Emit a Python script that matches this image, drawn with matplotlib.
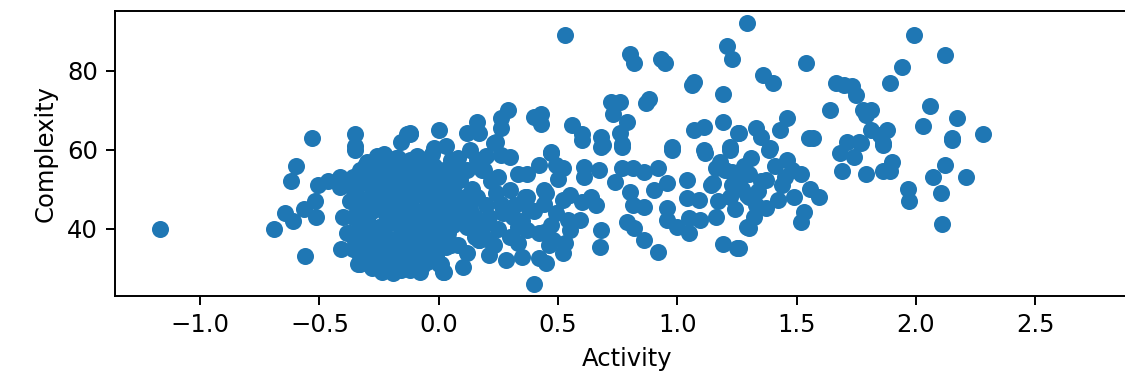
import matplotlib
matplotlib.use("Agg")
import matplotlib.pyplot as plt

# Werte (Activity, Complexity)
outliers_x = [-1.17, -0.69, -0.645, -0.61, -0.62, -0.60, -0.565, -0.56, -0.53, -0.52,
              -0.515, -0.505, -0.466, -0.414, -0.414, -0.40, -0.41, -0.386, -0.35, -0.35,
              -0.35, -0.33, -0.24, -0.19, -0.08, 0.02, -0.23, -0.03, -0.135, -0.16,
              0.0, -0.02, 0.03, -0.12]
outliers_y = [40, 40, 44, 42, 52, 56, 45, 33, 63, 47,
              43, 51, 52, 53, 50.5, 43, 35, 39, 60, 64,
              61, 31, 29, 28.7, 29, 29, 59, 59, 64, 62,
              65, 60.5, 61, 64]

cluster_x = [-0.30, -0.22, -0.15, -0.08, -0.02,
             -0.33, -0.27, -0.19, -0.11, -0.05, 0.02,
             -0.36, -0.29, -0.24, -0.16, -0.09, -0.03, 0.04,
             -0.38, -0.32, -0.25, -0.18, -0.13, -0.06, -0.01, 0.06,
             -0.35, -0.27, -0.21, -0.14, -0.09, -0.04, 0.03,
             -0.37, -0.31, -0.23, -0.18, -0.12, -0.05, 0.01, 0.07,
             -0.34, -0.28, -0.20, -0.15, -0.07, -0.02, 0.05,
             -0.36, -0.30, -0.22, -0.17, -0.10, -0.04, 0.03,
             -0.33, -0.25, -0.20, -0.13, -0.06, -0.01, 0.06,
             -0.37, -0.29, -0.24, -0.16, -0.11, -0.05, 0.02,
             -0.35, -0.27, -0.21, -0.14, -0.08, -0.02, 0.04,
             -0.36, -0.31, -0.23, -0.17, -0.12, -0.04, 0.03,
             -0.33, -0.26, -0.19, -0.13, -0.07, -0.01,
             -0.34, -0.28, -0.22, -0.15, -0.10, -0.05, 0.01,
             -0.26, -0.18, -0.09, -0.20, -0.12, -0.28, -0.16, -0.07]
cluster_y = [57, 57.5, 56.5, 57, 56,
             55, 54.5, 55.5, 55, 54, 55,
             53, 52.5, 53.5, 53, 52, 53, 52.5,
             51, 51.5, 50.5, 51, 51.5, 50.5, 51, 50,
             49, 48.5, 49.5, 49, 48.5, 49.5, 49,
             47, 46.5, 47.5, 47, 46.5, 47, 47.5, 46.5,
             45, 44.5, 45.5, 45, 44.5, 45, 45.5,
             43, 42.5, 43.5, 43, 42.5, 43, 43.5,
             41, 40.5, 41.5, 41, 41.5, 40.5, 41,
             39, 39.5, 38.5, 39, 39.5, 38.5, 39,
             37, 36.5, 37.5, 37, 36.5, 37, 37.5,
             35, 35.5, 34.5, 35, 34.5, 35, 35.5,
             33, 33.5, 32.5, 33, 32.5, 33,
             31, 31.5, 30.5, 31, 30.5, 31.5, 31,
             58.5, 58, 58.5, 30, 29.5, 30, 29.5, 30.5]

cluster_extra_x = [-0.31, -0.25, -0.17, -0.12, -0.04, 0.05, -0.28, -0.22, -0.15, -0.10,
                   -0.34, -0.26, -0.19, -0.12, -0.31, -0.24, -0.15, -0.08, 0.00, -0.32,
                   -0.19, -0.10, -0.02, 0.05, 0.07, 0.08, 0.06, -0.28, -0.14, 0.00,
                   -0.06, -0.21, 0.00]
cluster_extra_y = [56, 56.5, 58, 57.5, 58, 56, 50, 52, 50, 54,
                   48, 46, 44, 44, 42, 40, 40, 41, 42, 38,
                   36, 35, 33, 36, 42, 48, 52, 34, 32, 31,
                   49, 48, 46]

mid_x = [0.05, 0.13, 0.16, 0.19, 0.09, 0.02, 0.16, 0.075, 0.12, 0.17,
         0.12, 0.10, 0.016, 0.10, 0.21, 0.28, 0.21, 0.35, 0.30, 0.36,
         0.44, 0.44, 0.42, 0.06, 0.10, 0.14, 0.20, 0.22, 0.08, 0.04,
         0.15, 0.25, 0.18, 0.06, 0.11, 0.24, 0.20,
         0.40, 0.45, 0.46, 0.52, 0.675, 0.68, 0.86, 0.92, 1.19,
         1.25, 1.16, 0.33, 0.37, 0.53, 0.55, 0.59, 0.60, 0.64, 0.66,
         0.61, 0.67, 0.61, 0.74, 0.77, 0.815, 0.86, 0.92, 0.955, 0.90,
         0.80, 0.815, 0.86, 0.79, 0.82, 0.955, 0.955, 1.0, 1.05, 1.05,
         1.095, 1.04, 1.09, 1.04, 1.14, 1.16, 1.22, 1.115, 0.976, 1.23,
         1.26, 1.29, 1.29, 0.77, 0.68, 0.60, 0.47, 0.49, 0.52, 0.42,
         0.37, 0.30, 0.26, 0.23, 0.45, 0.37, 0.52, 0.26, 0.21, 0.31,
         0.44, 0.49, 0.54, 0.42, 0.48, 0.17, 0.03, 0.27, 1.15, 0.50,
         0.55, 0.33, 0.40,
         0.13, 0.18, 0.23, 0.27, 0.32, 0.35, 0.25, 0.12, 0.15, 0.30,
         0.38, 0.47, 0.33, 0.08, 0.20]
mid_y = [57.4, 59.9, 57.4, 54.9, 52.3, 51.5, 48.1, 43.9, 40.5, 37.2,
         33.8, 30.4, 29.1, 41.5, 37.2, 32.1, 33.4, 32.9, 49.8, 48.1,
         49.8, 39.3, 32.6, 47, 45, 50, 46, 52, 36, 39,
         43, 40, 55, 55, 48, 49, 42,
         26.0, 31.3, 35.9, 33.8, 35.5, 39.7, 37.2, 34.2, 36.2,
         35.1, 42.9, 36.3, 39.7, 36.3, 39.7, 42.2, 46.9, 48.1, 46.0,
         55.7, 54.9, 53.2, 51.9, 55.3, 55.3, 54.4, 55.3, 51.5, 49.8,
         49.4, 46.0, 45.6, 41.8, 40.1, 45.2, 42.2, 40.5, 38.9, 42.7,
         42.2, 47.7, 47.3, 52.3, 51.1, 55.3, 59.9, 59.1, 59.9, 54.4,
         51.5, 48.6, 40.5, 60.8, 60.8, 62.5, 59.1, 56.1, 55.3, 56.1,
         54.0, 58.2, 58.7, 61.6, 49.0, 48.1, 47.3, 46.4, 43.1, 43.1,
         46.4, 43.9, 42.2, 38.9, 37.2, 37.2, 39.5, 45, 51.5, 52.5,
         48.5, 40.5, 44.5,
         45, 40, 36, 44, 46, 42, 53, 55, 38, 38,
         45, 41, 54, 58, 58.5]

upper_x = [0.53, 0.80, 0.82, 0.93, 0.95, 1.06, 1.07, 1.19, 1.21, 1.23,
           1.29, 0.88, 0.87, 0.72, 0.76, 0.73, 0.79, 0.76, 0.77, 0.68,
           0.69, 0.56, 0.60, 0.40, 0.43, 0.43, 0.29, 0.26, 0.26, 0.24,
           0.16, 0.17, 0.12, -0.12, 0.976, 1.11, 1.07, 1.11, 1.19, 1.255,
           1.22, 0.47]
upper_y = [89.0, 84.2, 81.9, 83.1, 82.0, 76.4, 77.2, 74.0, 86.2, 82.9,
           92.0, 72.8, 71.9, 72.2, 72.2, 69.0, 67.1, 64.2, 61.5, 63.3,
           61.2, 66.3, 63.9, 68.2, 69.0, 66.5, 70.1, 68.0, 65.4, 62.0,
           67.1, 64.2, 64.2, 64.2, 60.8, 59.9, 65.0, 65.8, 67.1, 64.2,
           60.8, 59.5]

right_x = [1.99, 2.12, 1.94, 1.89, 1.54, 1.36, 1.40, 1.665, 1.73, 1.75,
           1.70, 1.64, 1.78, 1.81, 1.79, 2.06, 2.17, 2.03, 2.15, 2.28,
           1.46, 1.43, 1.33, 1.26, 1.35, 1.55, 1.57, 1.71, 1.76, 1.81,
           1.88, 1.85, 1.86, 1.39,
           2.11, 1.97, 1.965, 2.105, 2.07, 2.12, 2.21, 2.15, 1.90, 1.89,
           1.86, 1.79, 1.69, 1.74, 1.68, 1.77, 1.86, 1.595, 1.556, 1.53,
           1.52, 1.49, 1.46, 1.52, 1.45, 1.385, 1.30, 1.26, 1.37, 1.42,
           1.37, 1.32, 1.30, 1.18, 1.20, 1.25, 1.27, 1.30, 1.33, 1.22,
           1.17, 1.24, 1.35, 1.28, 1.31, 1.41, 1.44, 1.48, 1.34, 1.23]
right_y = [89, 84, 81, 77, 82, 78.9, 77, 77, 76.1, 73.8,
           76.4, 70.1, 70.1, 70.1, 68.8, 71, 68, 66, 63, 64,
           68, 65, 65.4, 64.2, 63.3, 63, 62.9, 62, 62, 65,
           65, 63.7, 61.6, 60.4,
           41.1, 47, 50, 49, 53, 56.1, 53, 62.5, 57, 54.7,
           54.7, 54, 54.7, 58.2, 59.1, 61.6, 61.2, 48, 50, 44.3,
           41.8, 48.1, 57.4, 54, 53.2, 59.9, 40.1, 35.1, 52.3, 47.3,
           45.2, 43.1, 54, 57, 55, 53, 50, 48, 46, 48,
           47, 45, 52, 56, 58, 56, 51, 55, 49.5, 51]

activity = outliers_x + cluster_x + cluster_extra_x + mid_x + upper_x + right_x
complexity = outliers_y + cluster_y + cluster_extra_y + mid_y + upper_y + right_y

fig = plt.figure(figsize=(1125 / 175, 377 / 175), dpi=175)
ax = fig.add_axes([115 / 1125, 81 / 377, (1140 - 115) / 1125, (296 - 10.7) / 377])
ax.scatter(activity, complexity, s=36, color="#1f77b4")
ax.set_xlim(-1.357, 2.939)
ax.set_ylim(23.0, 95.2)
ax.set_xticks([-1.0, -0.5, 0.0, 0.5, 1.0, 1.5, 2.0, 2.5])
ax.set_yticks([40, 60, 80])
ax.spines["right"].set_visible(False)
ax.set_xlabel("Activity")
ax.set_ylabel("Complexity")
fig.savefig("out.png", dpi=175)
